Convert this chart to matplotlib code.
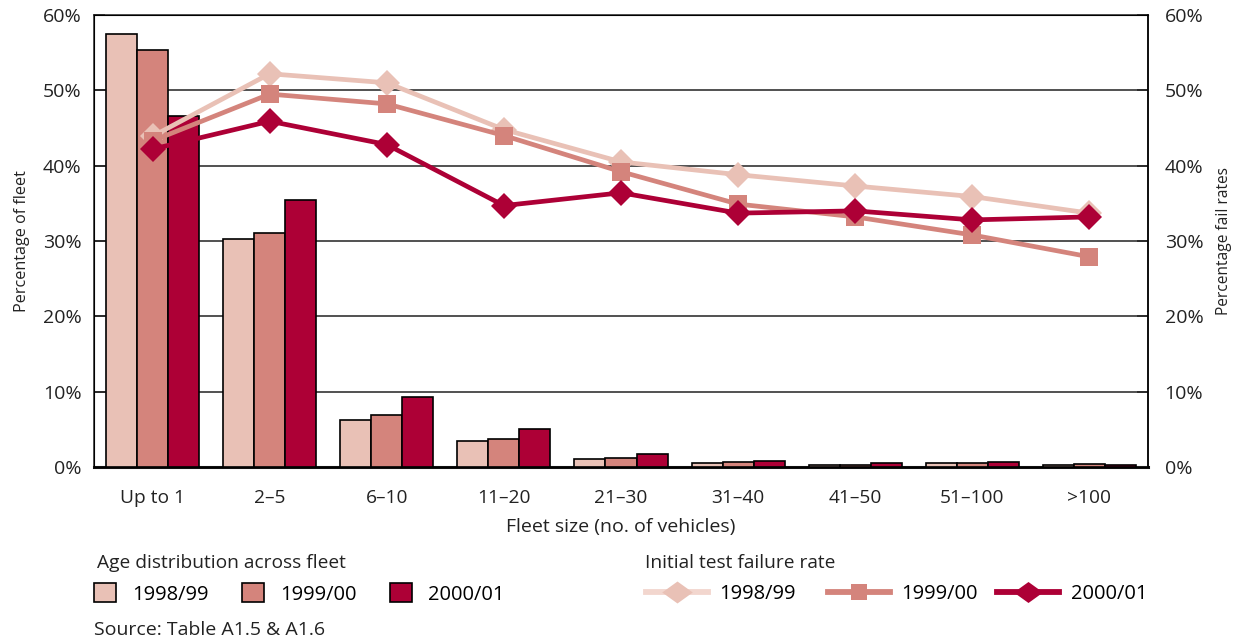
import matplotlib
matplotlib.use("Agg")
import matplotlib.pyplot as plt
from matplotlib.patches import Patch
from matplotlib.lines import Line2D
from matplotlib.path import Path
import numpy as np

plt.rcParams['font.family'] = ['Open Sans', 'DejaVu Sans']

categories = ["Up to 1", "2\u20135", "6\u201310", "11\u201320", "21\u201330",
              "31\u201340", "41\u201350", "51\u2013100", ">100"]
years = ["1998/99", "1999/00", "2000/01"]

# Share of fleet by fleet size (%)
fleet_1998 = [57.5, 30.3, 6.3, 3.4, 1.0, 0.55, 0.3, 0.55, 0.3]
fleet_1999 = [55.4, 31.1, 6.9, 3.7, 1.15, 0.65, 0.3, 0.55, 0.35]
fleet_2000 = [46.6, 35.4, 9.3, 5.0, 1.7, 0.75, 0.5, 0.7, 0.25]

# Initial test failure rate by fleet size (%)
fail_1998 = [43.9, 52.2, 51.0, 44.8, 40.5, 38.8, 37.3, 35.9, 33.7]
fail_1999 = [43.3, 49.5, 48.2, 44.0, 39.2, 34.9, 33.2, 30.8, 27.9]
fail_2000 = [42.2, 45.9, 42.8, 34.7, 36.4, 33.7, 34.0, 32.8, 33.2]

colors = ["#E9C1B6", "#D4847C", "#AD0036"]
legend_line_colors = ["#F2D6CE", "#D4847C", "#AD0036"]
yticks = [0, 10, 20, 30, 40, 50, 60]
ytick_labels = [f"{t}%" for t in yticks]
TXT = "#222222"

W, H = 1246, 642
fig = plt.figure(figsize=(W / 100, H / 100), dpi=100)
ax = fig.add_axes([94 / W, 1 - 467 / H, (1148 - 94) / W, (467 - 15) / H])

x = np.arange(len(categories))
bw = 0.265
for i, (vals, c) in enumerate(zip([fleet_1998, fleet_1999, fleet_2000], colors)):
    ax.bar(x + (i - 1) * bw, vals, width=bw, color=c, edgecolor="black",
           linewidth=1.2, zorder=3)

ax.set_xlim(-0.5, len(categories) - 0.5)
ax.set_ylim(0, 60)
ax.set_yticks(yticks)
ax.set_yticklabels(ytick_labels)
ax.set_xticks(x)
ax.set_xticklabels(categories)
ax.yaxis.grid(True, color=TXT, linewidth=1.1, zorder=0)
ax.set_axisbelow(True)
ax.tick_params(axis="y", direction="in", length=8, width=1.1, pad=9,
               labelsize=14, colors=TXT)
ax.tick_params(axis="x", length=0, pad=16, labelsize=13.8, colors=TXT)
for s in ["left", "top", "right"]:
    ax.spines[s].set_linewidth(1.1)
    ax.spines[s].set_color(TXT)
ax.spines["bottom"].set_linewidth(2.2)
ax.spines["bottom"].set_color("#111111")
ax.set_ylabel("Percentage of fleet", fontsize=11.6, labelpad=9, color=TXT)
ax.set_xlabel("Fleet size (no. of vehicles)", fontsize=14, labelpad=7.5, color=TXT)

ax2 = ax.twinx()
ax2.set_ylim(0, 60)
ax2.set_yticks(yticks)
ax2.set_yticklabels(ytick_labels)
ax2.tick_params(axis="y", direction="in", length=8, width=1.1, pad=12,
                labelsize=14, colors=TXT)
ax2.spines["right"].set_linewidth(1.1)
ax2.set_ylabel("Percentage fail rates", fontsize=11.2, labelpad=9, color=TXT)

line_styles = [("D", 13), ("s", 13.5), ("D", 13.5)]
for i, (vals, c, (m, ms)) in enumerate(zip([fail_1998, fail_1999, fail_2000],
                                             colors, line_styles)):
    ax2.plot(x, vals, color=c, linewidth=3.4, marker=m, markersize=ms,
             markeredgewidth=0, zorder=4 + i)

# Legend entries below the plot, one per key
wide_diamond = Path([(-1, 0), (0, 0.72), (1, 0), (0, -0.72), (-1, 0)],
                    closed=True)
legend_markers = [(wide_diamond, 22), ("s", 11.5), (wide_diamond, 21)]
row_y = 1 - 594 / H
bar_key_x = [94, 242, 390]
line_key_x = [646, 828, 997]
for c, lab, kx in zip(colors, years, bar_key_x):
    fig.legend([Patch(facecolor=c, edgecolor="black", linewidth=1.2)], [lab],
               loc="center left", bbox_to_anchor=(kx / W, row_y), frameon=False,
               fontsize=14.5, handlelength=1.09, handleheight=1.09,
               handletextpad=0.8, borderpad=0, borderaxespad=0)
for c, lc, lab, kx, (m, ms) in zip(colors, legend_line_colors, years, line_key_x,
                                   legend_markers):
    h_line = Line2D([0], [0], color=lc, linewidth=4.2)
    h_mark = Line2D([0], [0], linestyle="none", marker=m, markersize=ms,
                    color=c, markeredgewidth=0)
    fig.legend([(h_line, h_mark)], [lab], loc="center left",
               bbox_to_anchor=(kx / W, row_y), frameon=False, fontsize=14.5,
               handlelength=3.1, handletextpad=0.55, borderpad=0,
               borderaxespad=0)

fig.text(97 / W, 1 - 563 / H, "Age distribution across fleet", fontsize=13.8,
         va="center", ha="left", color=TXT)
fig.text(645 / W, 1 - 563 / H, "Initial test failure rate", fontsize=13.8,
         va="center", ha="left", color=TXT)
fig.text(94 / W, 1 - 630 / H, "Source: Table A1.5 & A1.6", fontsize=14,
         va="center", ha="left", color=TXT)

fig.savefig("out.png", dpi=100)
